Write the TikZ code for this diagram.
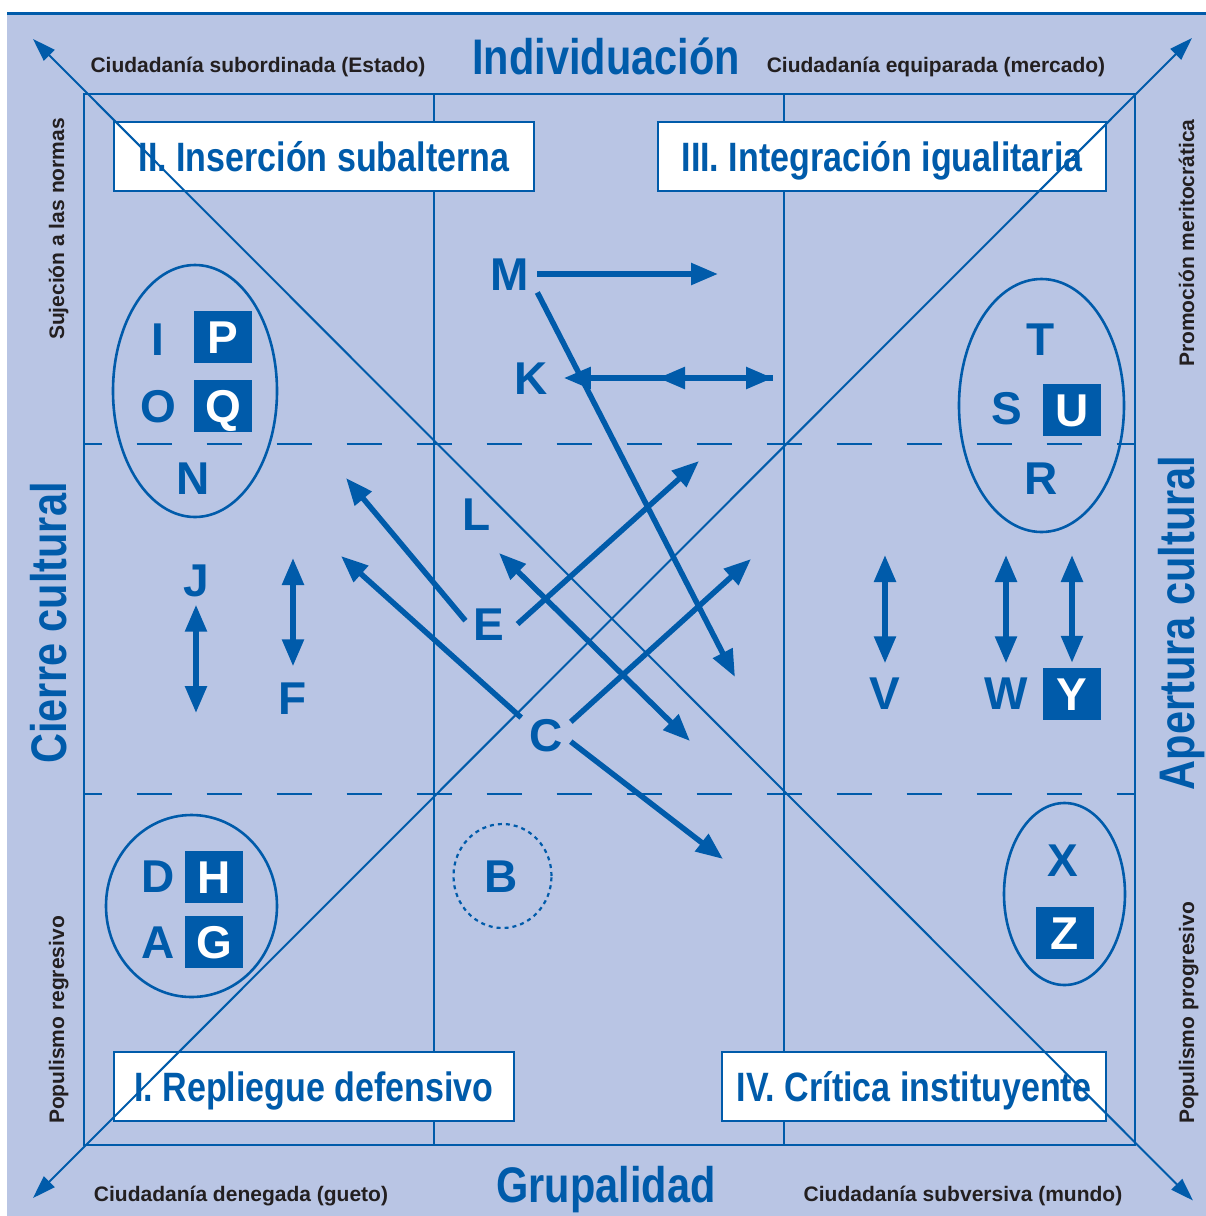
\documentclass[tikz,border=0pt]{standalone}
\usepackage{fontspec}
\setmainfont{Liberation Sans}
\newfontfamily\narrowfont{Liberation Sans}[FakeStretch=0.83]
\usetikzlibrary{arrows.meta}
\definecolor{azul}{RGB}{0,91,170}
\definecolor{fondo}{RGB}{185,197,228}
\definecolor{tinta}{RGB}{35,31,32}

\begin{document}
\begin{tikzpicture}[x=1pt,y=-1pt,>={Triangle[length=27pt,width=21pt]},
rejilla/.style={draw=azul,line width=1.3pt},
eje/.style={draw=azul,line width=2pt,{Triangle[length=23pt,width=15pt]}-{Triangle[length=23pt,width=15pt]}},
arr/.style={draw=azul,line width=5.5pt},
ovalo/.style={draw=azul,line width=2.6pt},
cuadro/.style={draw=azul,fill=white,line width=1.3pt,minimum height=69pt,inner sep=0pt,text=azul,text height=29pt,text depth=0pt,font=\narrowfont\bfseries\fontsize{41}{41}\selectfont},
letra/.style={text=azul,inner sep=8pt,text height=33pt,text depth=0pt,font=\bfseries\fontsize{46}{46}\selectfont},
sq/.style={fill=azul,text=white,minimum width=58pt,minimum height=52pt,inner sep=0pt,text height=33pt,text depth=0pt,font=\bfseries\fontsize{46}{46}\selectfont},
titulo/.style={text=azul,inner sep=0pt,anchor=base,font=\narrowfont\bfseries\fontsize{50}{50}\selectfont},
polo/.style={text=tinta,inner sep=0pt,anchor=base,font=\bfseries\fontsize{21}{21}\selectfont}]
\useasboundingbox (0,0) rectangle (1206,1216);
\fill[white] (0,0) rectangle (1206,1216);
\fill[fondo] (7,14) rectangle (1206,1216);
\draw[azul,line width=3pt] (7,13.5) -- (1206,13.5);
% cuadricula
\draw[rejilla] (84,94) rectangle (1135,1145);
\foreach \x in {434,784}
   \draw[rejilla] (\x,94) -- (\x,1145);
\foreach \y in {444,794}
   \draw[rejilla,dash pattern=on 35pt off 35pt,dash phase=17.5pt] (84,\y) -- (1135,\y);
% cuadrantes
\node[cuadro,minimum width=420pt] (insercion) at (324,156.5) {II. Inserción subalterna};
\node[cuadro,minimum width=448pt] (integracion) at (882,156.5) {III. Integración igualitaria};
\node[cuadro,minimum width=400pt] (repliegue) at (314,1086.5) {I. Repliegue defensivo};
\node[cuadro,minimum width=384pt] (critica) at (914,1086.5) {IV. Crítica instituyente};
% ejes
\node[titulo] (indiv) at (606,74) {Individuación};
\node[titulo] (grup) at (606,1202) {Grupalidad};
\node[titulo,rotate=90] (cierre) at (66,623) {Cierre cultural};
\node[titulo,rotate=90] (apertura) at (1194,623) {Apertura cultural};
\node[polo] (estado) at (258,72) {Ciudadanía subordinada (Estado)};
\node[polo] (mercado) at (936,72) {Ciudadanía equiparada (mercado)};
\node[polo] (gueto) at (241,1201) {Ciudadanía denegada (gueto)};
\node[polo] (mundo) at (963,1201) {Ciudadanía subversiva (mundo)};
\node[polo,rotate=90] (normas) at (64,229) {Sujeción a las normas};
\node[polo,rotate=90] (regresivo) at (64,1020) {Populismo regresivo};
\node[polo,rotate=90] (merito) at (1194,243) {Promoción meritocrática};
\node[polo,rotate=90] (progresivo) at (1194,1013) {Populismo progresivo};
\coordinate (nw) at (33,39);
\coordinate (se) at (1193,1200.5);
\coordinate (sw) at (33,1198);
\coordinate (ne) at (1192,38);
\draw[eje] (nw) -- (se);
\draw[eje] (sw) -- (ne);
% grupos
\draw[ovalo] (195,391) ellipse [x radius=82pt,y radius=126pt];
\draw[ovalo] (1041.5,405.5) ellipse [x radius=82.5pt,y radius=126.5pt];
\draw[ovalo] (191.5,906) ellipse [x radius=85.5pt,y radius=91pt];
\draw[ovalo] (1064.5,894) ellipse [x radius=60.5pt,y radius=91pt];
\draw[azul,line width=2.2pt,dash pattern=on 4pt off 4pt] (502.5,876) ellipse [x radius=49pt,y radius=52pt];
% letras
\foreach \n/\x/\y in {I/158/339,O/158/406,N/193/478,T/1041/339,S/1007/408,R/1041/478,D/158/876,A/158/942,X/1063/860,B/501/876,J/196/580,F/293/698,V/885/693,W/1006/693,M/510/274,K/531/378,L/477/514,E/489/624,C/546/735}
   \node[letra] (\n) at (\x,\y) {\n};
\foreach \n/\x/\y in {P/223/337,Q/223/405.5,U/1072/409.5,H/214/876.5,G/214/942,Z/1065/933,Y/1072/694}
   \node[sq] (\n) at (\x,\y) {\n};
% flechas
\coordinate (mE) at (718,274);
\coordinate (mS) at (735,677);
\coordinate (kE) at (773,378);
\coordinate (kM) at (658,378);
\coordinate (lNW) at (499,553);
\coordinate (lSE) at (690,741);
\coordinate (eNW) at (346,478);
\coordinate (eNE) at (699,461);
\coordinate (cNW) at (341,556);
\coordinate (cNE) at (751,559);
\coordinate (cSE) at (723,859);
\coordinate (jS) at (196,713);
\coordinate (fN) at (293,558);
\coordinate (vN) at (885,555);
\coordinate (wN) at (1006,555);
\coordinate (yN) at (1072,555);
\draw[arr,->] (M.east) -- (mE);
\draw[arr,->] (M.-34) -- (mS);
\draw[arr,<->] ([xshift=8pt]K.east) -- (kE);
\draw[arr,<-] (kM) -- (kE);
\draw[arr,<->] (lNW) -- (lSE);
\draw[arr,->] (E.172) -- (eNW);
\draw[arr,->] ([xshift=5pt]E.east) -- (eNE);
\draw[arr,->] (C.145) -- (cNW);
\draw[arr,->] (C.28) -- (cNE);
\draw[arr,->] (C.-15) -- (cSE);
\draw[arr,<->] (J.south) -- (jS);
\draw[arr,<->] (fN) -- ([yshift=7pt]F.north);
\draw[arr,<->] (vN) -- ([yshift=5pt]V.north);
\draw[arr,<->] (wN) -- ([yshift=5pt]W.north);
\draw[arr,<->] (yN) -- ([yshift=5pt]Y.north);
\end{tikzpicture}
\end{document}
